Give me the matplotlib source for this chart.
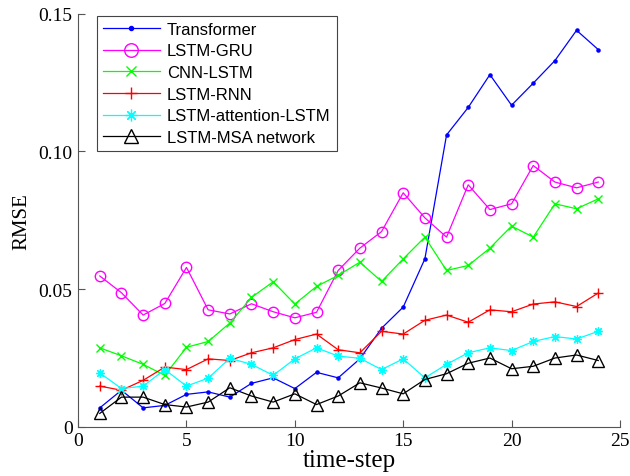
import matplotlib
matplotlib.use("Agg")
import matplotlib.pyplot as plt

# time steps and RMSE per model
steps = list(range(1, 25))

transformer = [0.0069, 0.0133, 0.0069, 0.0078, 0.0118, 0.0127, 0.0108, 0.0158,
               0.0178, 0.0139, 0.0198, 0.0178, 0.0247, 0.0358, 0.0435, 0.0610,
               0.1060, 0.1160, 0.1279, 0.1168, 0.1248, 0.1330, 0.1440, 0.1370]
lstm_gru = [0.0548, 0.0487, 0.0406, 0.0448, 0.0579, 0.0425, 0.0410, 0.0447,
            0.0418, 0.0396, 0.0416, 0.0568, 0.0649, 0.0709, 0.0850, 0.0759,
            0.0689, 0.0879, 0.0789, 0.0810, 0.0949, 0.0889, 0.0868, 0.0889]
cnn_lstm = [0.0287, 0.0258, 0.0227, 0.0187, 0.0289, 0.0310, 0.0377, 0.0470,
            0.0527, 0.0446, 0.0510, 0.0550, 0.0598, 0.0528, 0.0610, 0.0689,
            0.0568, 0.0586, 0.0649, 0.0729, 0.0689, 0.0810, 0.0792, 0.0828]
lstm_rnn = [0.0148, 0.0133, 0.0169, 0.0217, 0.0208, 0.0247, 0.0241, 0.0269,
            0.0287, 0.0317, 0.0337, 0.0280, 0.0269, 0.0347, 0.0337, 0.0387,
            0.0406, 0.0380, 0.0425, 0.0418, 0.0446, 0.0454, 0.0437, 0.0486]
lstm_att = [0.0196, 0.0139, 0.0148, 0.0208, 0.0148, 0.0177, 0.0249, 0.0227,
            0.0187, 0.0247, 0.0287, 0.0257, 0.0249, 0.0208, 0.0247, 0.0178,
            0.0227, 0.0269, 0.0287, 0.0277, 0.0310, 0.0328, 0.0319, 0.0347]
lstm_msa = [0.0049, 0.0108, 0.0108, 0.0081, 0.0072, 0.0090, 0.0142, 0.0112,
            0.0090, 0.0120, 0.0081, 0.0112, 0.0160, 0.0141, 0.0120, 0.0172,
            0.0193, 0.0231, 0.0250, 0.0211, 0.0220, 0.0250, 0.0261, 0.0241]

fig = plt.figure(figsize=(6.3, 4.77), dpi=100)
ax = fig.add_axes([0.124, 0.103, 0.860, 0.866])

lw = 0.9
ax.plot(steps, transformer, '-', marker='.', color='blue', lw=lw, ms=4.5,
        label='Transformer')
ax.plot(steps, lstm_gru, '-', marker='o', color='magenta', lw=lw, ms=7.5,
        mfc='none', mew=1.0, label='LSTM-GRU')
ax.plot(steps, cnn_lstm, '-', marker='x', color='lime', lw=lw, ms=5.5,
        mew=1.0, label='CNN-LSTM')
ax.plot(steps, lstm_rnn, '-', marker='+', color='red', lw=lw, ms=7,
        mew=1.0, label='LSTM-RNN')
ax.plot(steps, lstm_att, '-', marker=(8, 2, 0), color='cyan', lw=lw, ms=6.5,
        mew=0.9, label='LSTM-attention-LSTM')
ax.plot(steps, lstm_msa, '-', marker='^', color='black', lw=lw, ms=8,
        mfc='none', mew=1.0, label='LSTM-MSA network')

ax.set_xlim(0, 25)
ax.set_ylim(0, 0.15)
ax.set_xticks([0, 5, 10, 15, 20, 25])
ax.set_yticks([0, 0.05, 0.10, 0.15])
ax.set_yticklabels(['0', '0.05', '0.10', '0.15'])

for side in ('top', 'right'):
    ax.spines[side].set_visible(False)
for side in ('left', 'bottom'):
    ax.spines[side].set_color('#555555')
    ax.spines[side].set_linewidth(0.8)
ax.tick_params(direction='in', length=5, width=0.8, color='#555555',
               labelsize=14, pad=4)
for lab in ax.get_xticklabels() + ax.get_yticklabels():
    lab.set_family('Liberation Serif')

ax.set_xlabel('time-step', family='Liberation Serif', fontsize=18, labelpad=0)
ax.set_ylabel('RMSE', family='Liberation Serif', fontsize=15, labelpad=5)

leg = ax.legend(loc='upper left', bbox_to_anchor=(0.035, 0.995), numpoints=1,
                borderaxespad=0, handlelength=3.4, handletextpad=0.45,
                labelspacing=0.4, borderpad=0.35, fancybox=False, framealpha=1,
                markerscale=1.3, edgecolor='#444444',
                prop={'family': 'Liberation Sans', 'size': 12})
leg.get_frame().set_linewidth(0.8)

fig.savefig('out.png', dpi=100)
